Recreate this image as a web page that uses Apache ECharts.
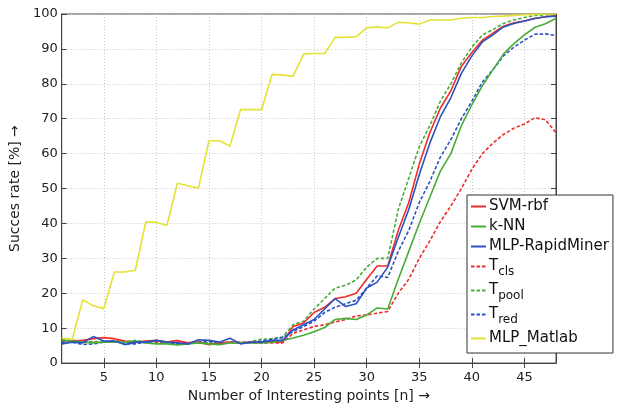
<!DOCTYPE html>
<html><head><meta charset="utf-8">
<script src="https://cdn.jsdelivr.net/npm/echarts@6/dist/echarts.min.js"></script>
<style>html,body{margin:0;padding:0;background:#fff}#c{width:619px;height:408px}</style>
</head><body><div id="c"></div>
<script>
const nValues = [1,2,3,4,5,6,7,8,9,10,11,12,13,14,15,16,17,18,19,20,21,22,23,24,25,26,27,28,29,30,31,32,33,34,35,36,37,38,39,40,41,42,43,44,45,46,47,48];
const xTicks = [5,10,15,20,25,30,35,40,45];
const yTicks = [0,10,20,30,40,50,60,70,80,90,100];

const svmRbf = [6.5,6.3,6.5,7.0,7.3,7.0,6.3,6.0,6.3,6.5,6.0,6.5,5.8,6.0,5.3,5.8,6.0,5.8,6.0,6.0,6.2,6.0,10.5,11.5,14.5,16.0,18.5,19.0,20.0,24.0,27.8,27.8,38.0,46.0,57.0,66.0,73.0,78.0,85.0,89.0,92.5,94.5,96.5,97.5,98.0,98.8,99.2,99.5];
const kNN = [6.5,6.3,6.0,5.8,6.0,6.0,6.0,6.3,5.8,5.5,5.5,5.2,5.5,5.8,5.5,5.3,5.8,5.8,5.8,5.8,6.0,6.5,7.2,8.0,9.0,10.2,12.5,12.8,12.5,13.8,15.8,15.5,24.0,32.0,40.0,47.5,55.0,60.0,68.0,74.0,79.5,84.0,88.5,91.5,94.0,96.2,97.2,98.8];
const mlpRapidMiner = [5.5,6.0,5.8,7.6,6.3,6.3,5.3,6.0,6.0,6.5,6.0,5.8,5.5,6.7,6.5,6.0,7.1,5.5,6.0,6.0,6.5,6.5,9.5,11.0,12.5,15.5,18.5,16.2,17.0,21.5,23.2,27.5,36.0,44.0,54.0,63.0,70.5,76.0,83.0,88.0,92.0,94.0,96.3,97.3,98.0,98.7,99.2,99.4];
const tCls = [6.3,6.5,6.3,6.0,6.0,6.5,6.0,5.8,6.2,6.0,6.0,6.0,5.8,6.0,5.8,5.5,5.8,6.0,5.8,5.8,5.8,5.8,8.5,9.5,10.5,11.0,11.8,12.5,13.5,13.8,14.3,14.8,20.0,24.0,30.0,35.0,40.5,45.0,50.0,55.5,60.0,63.0,65.5,67.3,68.5,70.3,69.7,66.0];
const tPool = [6.8,6.5,6.0,6.2,6.0,6.3,6.0,6.5,6.0,6.2,6.0,5.5,5.8,6.0,5.8,5.5,6.0,5.8,6.2,6.8,7.0,7.5,11.0,12.0,15.5,18.5,21.5,22.3,23.8,27.5,30.0,30.0,44.0,53.0,62.0,68.0,75.0,80.0,86.0,90.5,94.0,95.5,97.3,98.3,99.0,99.6,99.8,99.9];
const tRed = [6.0,6.0,5.3,5.5,6.0,6.3,5.5,5.5,6.0,6.3,6.0,5.5,5.5,6.0,6.3,5.5,6.0,5.8,6.0,6.3,6.8,7.3,9.0,10.5,12.0,14.5,16.0,17.0,18.0,21.5,25.0,24.5,32.0,38.0,46.0,52.0,59.0,64.0,70.0,75.0,80.5,84.0,88.0,90.5,92.5,94.2,94.3,93.8];
const mlpMatlab = [7.1,6.8,18.1,16.4,15.6,26.1,26.1,26.6,40.5,40.3,39.5,51.5,50.8,50.1,63.7,63.7,62.2,72.6,72.6,72.6,82.7,82.5,82.2,88.5,88.7,88.7,93.3,93.3,93.5,96.0,96.3,96.0,97.6,97.5,97.1,98.3,98.3,98.3,98.8,99.0,99.0,99.3,99.4,99.6,99.8,99.9,100.0,100.0];

const seriesNames = ['SVM-rbf','k-NN','MLP-RapidMiner','T_cls','T_pool','T_red','MLP_Matlab'];

const RED='#ee2c2c', GREEN='#48ad38', BLUE='#2a52c2', YELLOW='#e4e234';
function pairs(arr){ return nValues.map((n,i)=>[n,arr[i]]); }
function mk(name, arr, color, dashed, z){
  return {name, type:'line', data:pairs(arr), showSymbol:false, symbol:'none', z:z||2,
    lineStyle:{color, width:1.6, type: dashed?[3.5,2]:'solid'}, itemStyle:{color}, animation:false};
}
const FONT='DejaVu Sans';
const chart = echarts.init(document.getElementById('c'), null, {renderer:'canvas'});
chart.setOption({
  animation:false,
  grid:{left:60, right:63, top:14, bottom:40, show:true, borderColor:'#444', borderWidth:1},
  xAxis:[{type:'value', min:1, max:48, position:'bottom',
    name:'Number of Interesting points [n] \u2192', nameLocation:'middle', nameGap:20,
    nameTextStyle:{fontFamily:FONT, fontSize:14, color:'#222'},
    axisLine:{show:true, lineStyle:{color:'#444'}},
    axisTick:{show:true, inside:true, length:5, customValues:xTicks, lineStyle:{color:'#444'}},
    axisLabel:{customValues:xTicks, fontFamily:FONT, fontSize:13, color:'#222', margin:8},
    splitLine:{show:true, lineStyle:{color:'#c8c8c8', type:[1,2], width:1}}},
    {type:'value', min:1, max:48, position:'top',
    axisLine:{show:true, lineStyle:{color:'#444'}},
    axisTick:{show:true, inside:true, length:5, customValues:xTicks, lineStyle:{color:'#444'}},
    axisLabel:{show:false}, splitLine:{show:false}}],
  yAxis:[{type:'value', min:0, max:100, interval:10, position:'left',
    name:'Succes rate [%] \u2192', nameLocation:'middle', nameGap:25,
    nameTextStyle:{fontFamily:FONT, fontSize:14, color:'#222'},
    axisLine:{show:true, lineStyle:{color:'#444'}},
    axisTick:{show:true, inside:true, length:5, lineStyle:{color:'#444'}},
    axisLabel:{fontFamily:FONT, fontSize:13, color:'#222', margin:4},
    splitLine:{show:true, lineStyle:{color:'#c8c8c8', type:[1,2], width:1}}},
    {type:'value', min:0, max:100, interval:10, position:'right',
    axisLine:{show:true, lineStyle:{color:'#444'}},
    axisTick:{show:true, inside:true, length:5, lineStyle:{color:'#444'}},
    axisLabel:{show:false}, splitLine:{show:false}}],
  legend:{orient:'vertical', left:467, top:195,
    backgroundColor:'#fff', borderColor:'#333', borderWidth:1, borderRadius:0,
    padding:[4,4,7,3], itemGap:5, itemWidth:15, itemHeight:18, align:'left',
    itemStyle:{opacity:0},
    data:seriesNames,
    formatter:function(name){
      const m = name.match(/^T_(.+)$/);
      if(m) return '{t|T}{s|'+m[1]+'}';
      return '{n|'+name+'}';
    },
    textStyle:{fontFamily:FONT, fontSize:15, color:'#111', padding:[0,0,0,-2],
      rich:{n:{fontFamily:FONT, fontSize:15, color:'#111'},
            t:{fontFamily:FONT, fontSize:15, color:'#111', padding:[4,0,4,0], verticalAlign:'top'},
            s:{fontFamily:FONT, fontSize:12, color:'#111', padding:[11,0,0,0], verticalAlign:'top'}}},
    z:10},
  series:[
    mk('SVM-rbf', svmRbf, RED, false, 3),
    mk('k-NN', kNN, GREEN, false, 3),
    mk('MLP-RapidMiner', mlpRapidMiner, BLUE, false, 4),
    mk('T_cls', tCls, RED, true, 2),
    mk('T_pool', tPool, GREEN, true, 2),
    mk('T_red', tRed, BLUE, true, 2),
    mk('MLP_Matlab', mlpMatlab, YELLOW, false, 5)
  ]
});
</script></body></html>
